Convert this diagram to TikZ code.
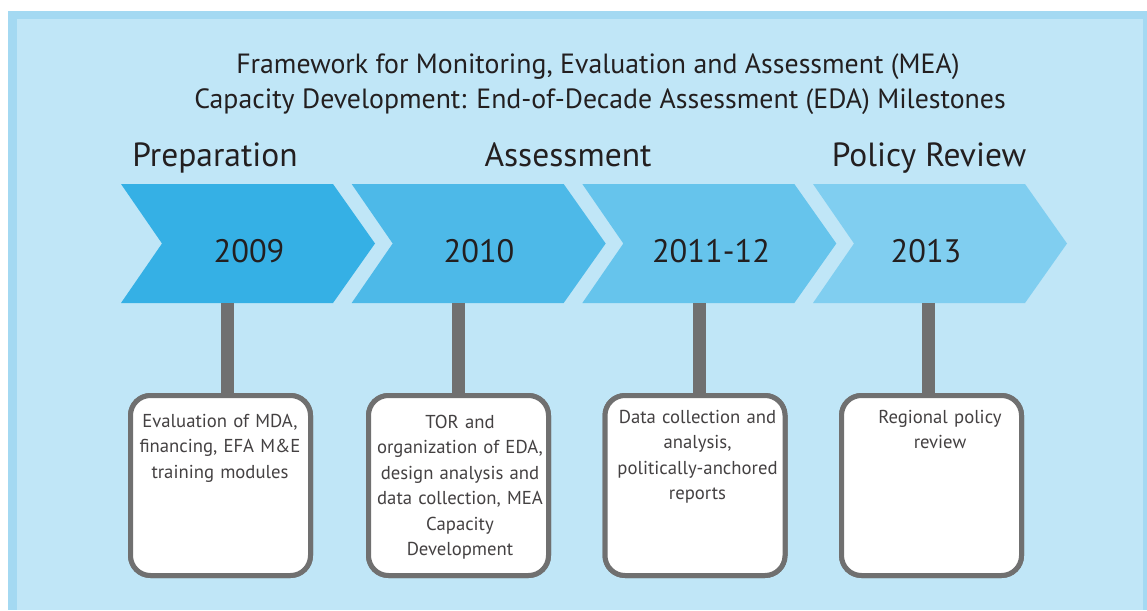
\documentclass[tikz,border=0pt]{standalone}
\usepackage{fontspec}
\setmainfont{PT Sans}
\definecolor{frameout}{HTML}{A4D9F2}
\definecolor{framein}{HTML}{C0E6F7}
\definecolor{chA}{HTML}{35B0E5}
\definecolor{chB}{HTML}{4DB9E8}
\definecolor{chC}{HTML}{66C4EC}
\definecolor{chD}{HTML}{80CEF0}
\definecolor{ink}{HTML}{231F20}
\definecolor{stemgray}{HTML}{707070}
\tikzset{
  titletext/.style={font=\fontsize{27.8}{30}\selectfont, text=ink, inner sep=0pt, anchor=base},
  phase/.style={font=\fontsize{33.5}{36}\selectfont, text=ink, inner sep=0pt, anchor=base},
  year/.style={font=\fontsize{32.5}{36}\selectfont, text=ink, inner sep=0pt, anchor=base},
  stembar/.style={draw=stemgray, line width=13pt},
  milebox/.style={draw=stemgray, line width=5pt, fill=white, rounded corners=20pt,
    minimum width=180pt, minimum height=180pt, inner sep=0pt},
  boxtext/.style={font=\fontsize{18.7}{25.5}\selectfont, text=ink!85, inner sep=0pt,
    text width=180pt, align=center, anchor=base},
}
\begin{document}
\begin{tikzpicture}[x=1pt, y=-1pt]
\useasboundingbox (0,0) rectangle (1147,610);
% frame
\fill[white] (0,0) rectangle (1147,610);
\fill[frameout] (8,11) rectangle (1147,610);
\fill[framein] (17,19) rectangle (1143,610);
% titles
\node[titletext] (t1) at (598,73) {Framework for Monitoring, Evaluation and Assessment (MEA)};
\node[titletext] (t2) at (600,108) {Capacity Development: End-of-Decade Assessment (EDA) Milestones};
\node[phase] (p1) at (215,166) {Preparation};
\node[phase] (p2) at (568,166) {Assessment};
\node[phase] (p3) at (929,166) {Policy Review};
% chevrons
\foreach \L/\c in {121/chA, 351.67/chB, 582.33/chC, 813/chD}{
  \fill[\c] (\L,184) -- (\L+212,184) -- (\L+254,243.5) -- (\L+212,303) -- (\L,303) -- (\L+41,243.5) -- cycle;
}
\node[year] (y1) at (249,262) {2009};
\node[year] (y2) at (479,262) {2010};
\node[year] (y3) at (711,262) {2011-12};
\node[year] (y4) at (926,262) {2013};
% stem anchors
\coordinate (s1) at (227,303);
\coordinate (s2) at (458,303);
\coordinate (s3) at (699,303);
\coordinate (s4) at (928,303);
% boxes
\node[milebox] (b1) at (220.5,485.5) {};
\node[milebox] (b2) at (458.5,485.5) {};
\node[milebox] (b3) at (695,485.5) {};
\node[milebox] (b4) at (931.5,485.5) {};
\foreach \i in {1,...,4}{
  \draw[stembar] (s\i) -- (s\i |- b\i.north);
}
\foreach \i in {1,...,4}{
  \node[milebox] at (b\i) {};
}
% box texts
\node[boxtext] (x1) at (220,427) {Evaluation of MDA,\\ financing, EFA M\&E\\ training modules};
\node[boxtext] (x2) at (460,428) {TOR and\\ organization of EDA,\\ design analysis and\\ data collection, MEA\\ Capacity\\ Development};
\node[boxtext] (x3) at (697.5,423) {Data collection and\\ analysis,\\ politically-anchored\\ reports};
\node[boxtext] (x4) at (940,423) {Regional policy\\ review};
\end{tikzpicture}
\end{document}
